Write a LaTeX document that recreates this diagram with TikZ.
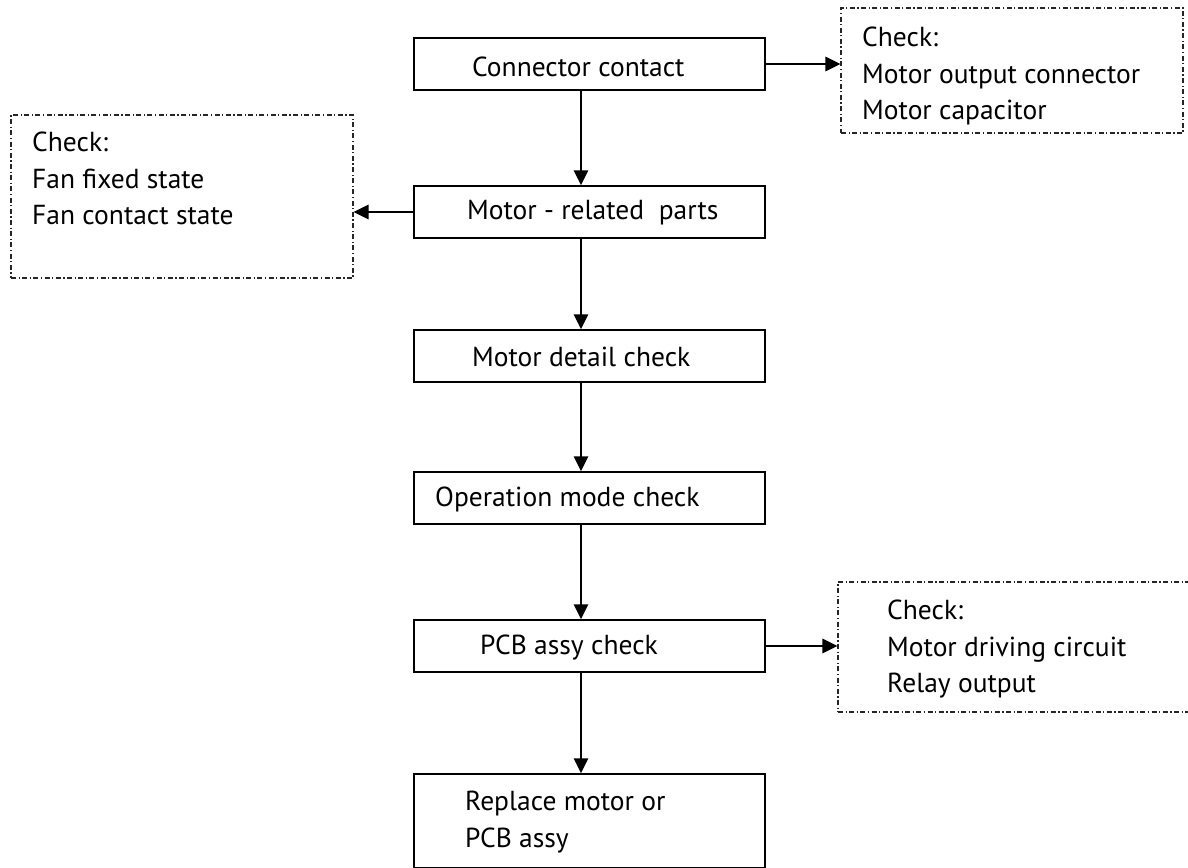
\documentclass[tikz,border=0pt]{standalone}
\usepackage{fontspec}
\setmainfont{PT Sans}
\usetikzlibrary{arrows.meta}
\begin{document}
\begin{tikzpicture}[x=1pt,y=-1pt,
  box/.style={draw=black,line width=1.5pt,minimum width=351pt,inner sep=0pt},
  note/.style={draw=black!85,line width=1.1pt,dash pattern=on 5pt off 2.5pt on 1.2pt off 2.5pt,inner sep=0pt},
  txt/.style={font=\fontsize{27.5}{36.5}\selectfont,inner sep=0pt,align=left},
  arr/.style={line width=2.8pt,-{Triangle[length=15pt,width=14pt]}}]
\useasboundingbox (0,0) rectangle (1188,867);
% main boxes
\node[box,minimum height=52pt] (cc) at (589.5,64) {};
\node[box,minimum height=52pt] (mr) at (589.5,212) {};
\node[box,minimum height=52pt] (md) at (589.5,356) {};
\node[box,minimum height=52pt] (om) at (589.5,498) {};
\node[box,minimum height=52pt] (pcb) at (589.5,646) {};
\node[box,minimum height=94pt] (rp) at (589.5,821) {};
% texts
\node[txt,anchor=west] (tcc) at (472,67) {Connector contact};
\node[txt,anchor=west] (tmr) at (467,213) {Motor - related\ \ parts};
\node[txt,anchor=west] (tmd) at (472,357) {Motor detail check};
\node[txt,anchor=west] (tom) at (435,499) {Operation mode check};
\node[txt,anchor=west] (tpcb) at (480,648) {PCB assy check};
\node[txt,anchor=north west] (trp) at (465,791) {Replace motor or\\PCB assy};
% note boxes
\node[note,minimum width=342pt,minimum height=125pt] (n1) at (1012,70.5) {};
\node[note,minimum width=342pt,minimum height=163pt] (n2) at (182,196.5) {};
\node[note,minimum width=352pt,minimum height=130pt] (n3) at (1014,647) {};
\node[txt,anchor=north west] (tn1) at (862,27) {Check:\\Motor output connector\\Motor capacitor};
\node[txt,anchor=north west] (tn2) at (32,132) {Check:\\Fan fixed state\\Fan contact state};
\node[txt,anchor=north west] (tn3) at (887,600) {Check:\\Motor driving circuit\\Relay output};
% connectors
\coordinate (ax) at (581,0);
\draw[arr] (cc.south -| ax) -- (mr.north -| ax);
\draw[arr] (mr.south -| ax) -- (md.north -| ax);
\draw[arr] (md.south -| ax) -- (om.north -| ax);
\draw[arr] (om.south -| ax) -- (pcb.north -| ax);
\draw[arr] (pcb.south -| ax) -- (rp.north -| ax);
\draw[arr] (cc.east) -- (n1.west |- cc.east);
\draw[arr] (mr.west) -- (n2.east |- mr.west);
\draw[arr] (pcb.east) -- (n3.west |- pcb.east);
\end{tikzpicture}
\end{document}
